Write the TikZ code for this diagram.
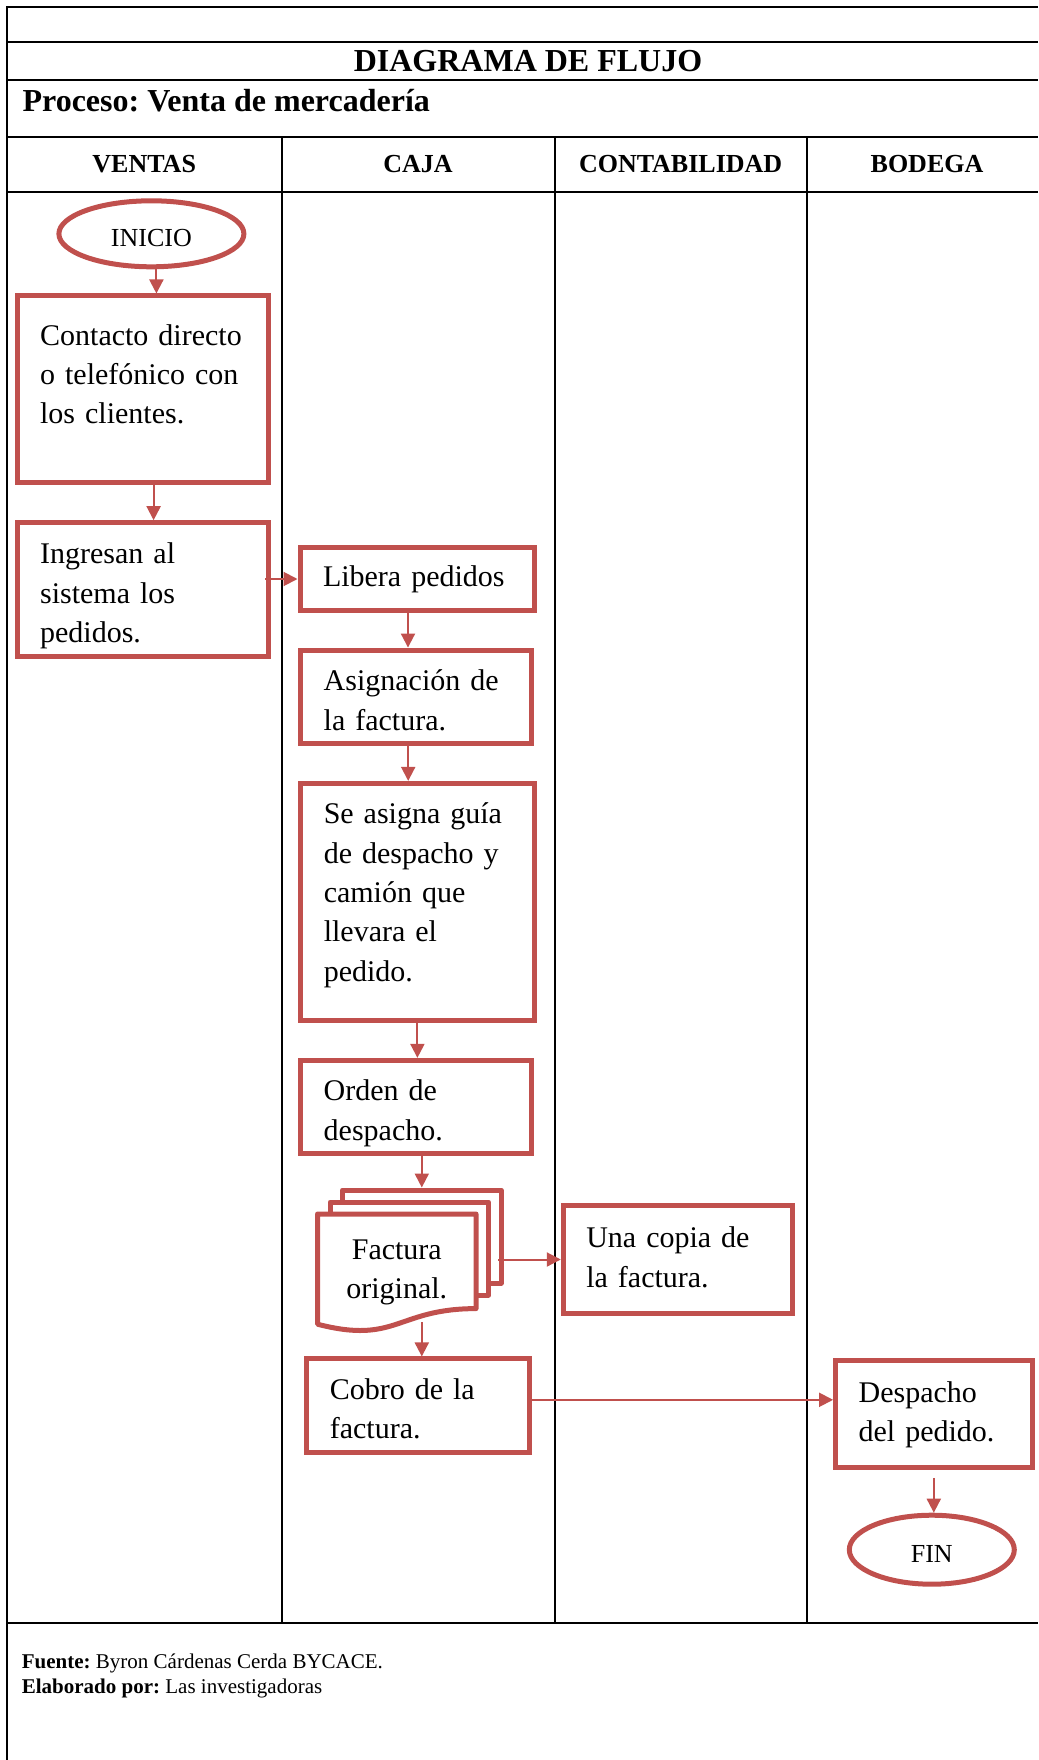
\documentclass[tikz,border=0pt]{standalone}
\usepackage{fontspec}
\setmainfont{Liberation Serif}
\usepackage{tikz}
\usetikzlibrary{calc,shapes.geometric,arrows.meta}
\definecolor{rojo}{RGB}{192,80,77}
\frenchspacing

\begin{document}
\begin{tikzpicture}[x=1pt,y=-1pt,
    tabla/.style={line width=2pt},
    cabecera/.style={font=\bfseries\fontsize{32}{38}\selectfont, inner sep=0pt},
    carril/.style={font=\bfseries\fontsize{26}{30}\selectfont, inner sep=0pt},
    paso/.style={draw=rojo, line width=5pt, rectangle, align=left, inner xsep=23pt, inner ysep=0pt,
      font=\fontsize{30}{39.3}\selectfont, execute at begin node={\rule{0pt}{#1}}, execute at end node=\strut},
    paso/.default=27.5pt,
    terminal/.style={draw=rojo, line width=5pt, ellipse, inner sep=0pt, text height=25pt, text depth=0pt,
      font=\fontsize{26}{30}\selectfont},
    documento/.style={draw=rojo, line width=5pt, line join=round},
    flecha/.style={draw=rojo, line width=2pt, -{Triangle[length=14pt,width=14pt]}},
    nota/.style={anchor=base west, inner sep=0pt, font=\fontsize{21}{25}\selectfont}]

  \useasboundingbox (0,0) rectangle (1038,1760);

  % Draw the frame of the table
  \draw[tabla] (6.7,1760) -- (6.7,6.7) -- (1038,6.7);
  \foreach \y in {41.7,80,136.7,191.7,1622.7} {
    \draw[tabla] (6.7,\y) -- (1038,\y);
  }
  \foreach \x in {281.7,554.8,806.8} {
    \draw[tabla] (\x,136.7) -- (\x,1622.7);
  }

  % Titles and lanes
  \node[cabecera] (titulo) at (528,61) {DIAGRAMA DE FLUJO};
  \node[cabecera, anchor=base west] (proceso) at (22.4,111.6) {Proceso: Venta de mercadería};
  \foreach \x/\nombre/\texto in {144.2/ventas/VENTAS, 418/caja/CAJA, 680.6/conta/CONTABILIDAD, 927/bodega/BODEGA} {
    \node[carril] (\nombre) at (\x,164) {\texto};
  }

  % VENTAS
  \node[terminal, minimum width=185, minimum height=66] (inicio) at (151.4,233.8) {INICIO};
  \node[paso=34.3pt, text width=205.5pt, minimum height=186pt] (contacto) at (142.9,389)
    {Contacto directo\\o telefónico con\\los clientes.\\[-8pt]\mbox{}};
  \node[paso=38.7pt, text width=205.5pt, minimum height=134pt] (ingresan) at (142.9,589.7)
    {Ingresan al\\sistema los\\pedidos.};

  % CAJA
  \node[paso, text width=188pt, minimum height=63.4pt] (libera) at (417,579) {Libera pedidos};
  \node[paso=38.7pt, text width=185pt, minimum height=93.7pt] (asignacion) at (416.2,696.9)
    {Asignación de\\la factura.};
  \node[paso=33.1pt, text width=187.3pt, minimum height=237pt] (seasigna) at (417.4,901.9)
    {Se asigna guía\\de despacho y\\camión que\\llevara el\\pedido.\\[-19pt]\mbox{}};
  \node[paso=38.7pt, text width=185pt, minimum height=93.3pt] (orden) at (416.2,1107)
    {Orden de\\despacho.};
  \node[align=center, minimum width=158.5pt, minimum height=100pt, inner sep=0pt, outer sep=0pt,
    font=\fontsize{30}{39.3}\selectfont] (factura) at (396.8,1264)
    {\rule{0pt}{42pt}Factura\\original.\strut};
  \node[paso=38.7pt, text width=176.2pt, minimum height=93.7pt] (cobro) at (417.9,1405.8)
    {Cobro de la\\factura.};

  % the stack of invoices
  \draw[documento] ($(factura.north west)+(25,-12)$) -- ++(0,-12) -- ++(158.5,0) -- ++(0,93) -- ++(-12.5,0);
  \draw[documento] ($(factura.north west)+(12.5,0)$) -- ++(0,-12) -- ++(158.5,0) -- ++(0,93) -- ++(-12.5,0);
  \draw[documento] (factura.north west) -- (factura.north east) -- ($(factura.north east)+(0,94.6)$)
    .. controls ($(factura.north)+(0,94.6)$) and ($(factura.north)+(0,130.7)$) .. ($(factura.north west)+(0,110.2)$)
    -- cycle;
  \coordinate (facturatope) at ($(factura.north)+(25,-26.5)$);
  \coordinate (facturaborde) at ($(factura.north east)+(25,0)$);

  % CONTABILIDAD
  \node[paso, text width=183pt, minimum height=107.6pt] (copia) at (677.8,1259.5)
    {Una copia de\\la factura.};

  % BODEGA
  \node[paso, text width=150.4pt, minimum height=106.5pt] (despacho) at (933.8,1414.2)
    {Despacho\\del pedido.};
  \node[terminal, minimum width=165, minimum height=69] (fin) at (931.8,1549.7) {FIN};

  % Draw the arrows
  \draw[flecha] ([xshift=5pt]inicio.south) -- ([xshift=5pt]inicio.south |- contacto.north);
  \draw[flecha] ([xshift=10.7pt]contacto.south) -- ([xshift=10.7pt]contacto.south |- ingresan.north);
  \draw[flecha] ([xshift=-6pt]ingresan.east |- libera.west) -- (libera.west);
  \draw[flecha] ([xshift=-9pt]libera.south) -- ([xshift=-9pt]libera.south |- asignacion.north);
  \draw[flecha] ([xshift=-8pt]asignacion.south) -- ([xshift=-8pt]asignacion.south |- seasigna.north);
  \draw[flecha] (seasigna.south) -- (seasigna.south |- orden.north);
  \draw[flecha] (orden.south -| facturatope) -- (facturatope);
  \draw[flecha] ([xshift=-3pt]facturaborde |- copia.west) -- (copia.west);
  \draw[flecha] ($(factura.south -| facturatope)+(0,8)$) -- (facturatope |- cobro.north);
  \draw[flecha] ([yshift=6pt]cobro.east) -- ([yshift=6pt]cobro.east -| despacho.west);
  \draw[flecha] ([yshift=-8pt]despacho.south) -- (despacho.south |- fin.north);

  % Footer
  \node[nota] (fuente) at (21.7,1668.3) {\textbf{Fuente:} Byron Cárdenas Cerda BYCACE.};
  \node[nota] (elaborado) at (21.7,1693.3) {\textbf{Elaborado por:} Las investigadoras};

\end{tikzpicture}
\end{document}
